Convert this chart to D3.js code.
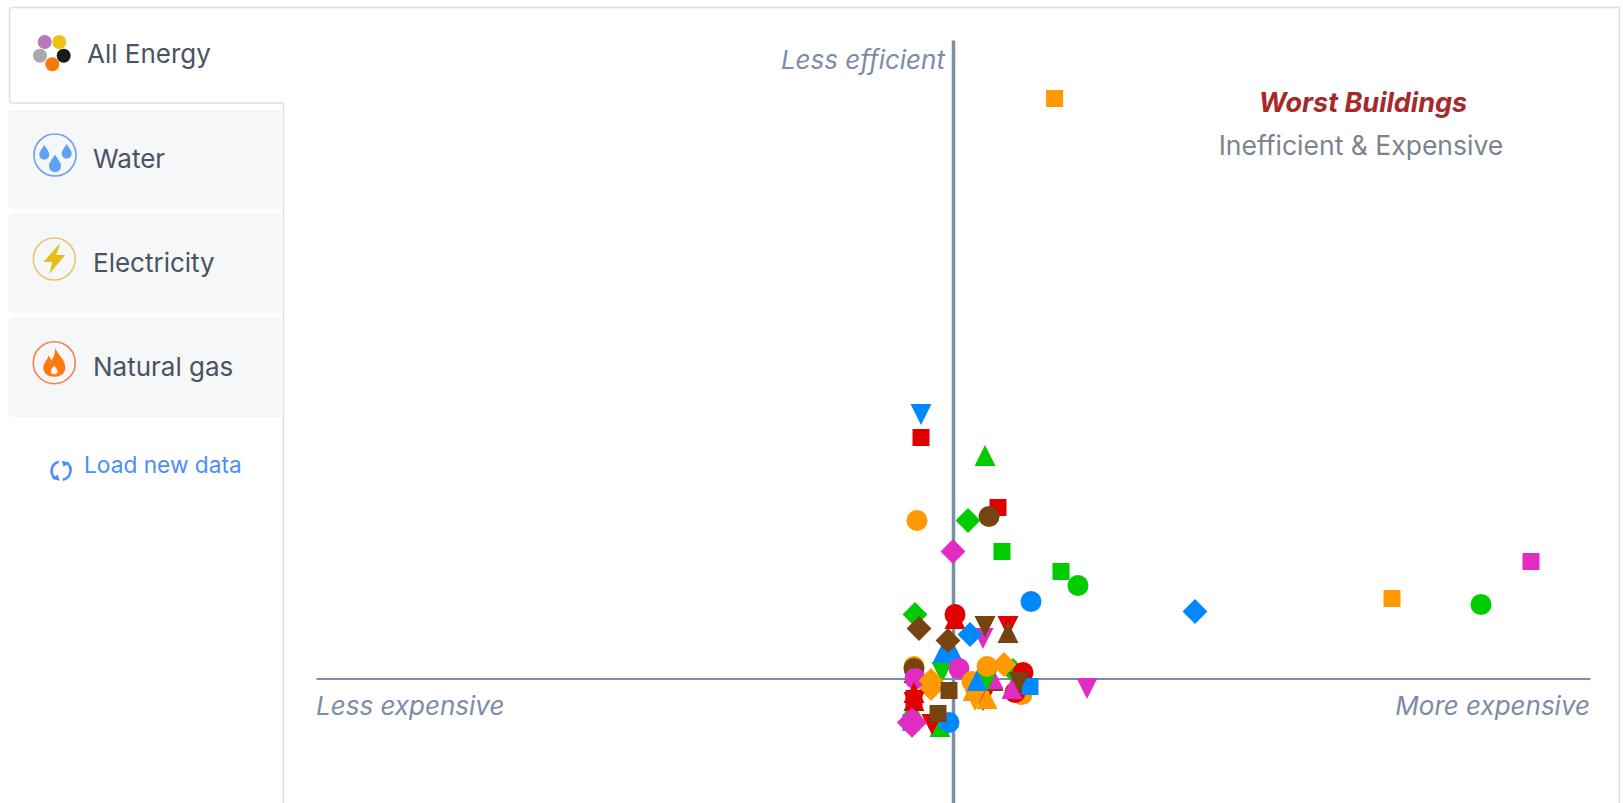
<!DOCTYPE html>
<html lang="en">
<head>
<meta charset="utf-8">
<title>Worst Buildings: energy use against cost</title>
<script src="https://cdn.jsdelivr.net/npm/d3@7/dist/d3.min.js"></script>
<style>
  html, body { margin: 0; padding: 0; background: #fff; overflow: hidden; }
  svg { display: block; font-family: Inter, Roboto, "Liberation Sans", sans-serif; }
  .tab-label { font-size: 26px; fill: #4a5361; }
  .corner { font-size: 26px; font-style: italic; fill: #7b8ca6; }
</style>
</head>
<body>
<svg id="chart" width="1623" height="803"></svg>
<script>
// Energy tabs down the left side
const tabNames = ["All Energy", "Water", "Electricity", "Natural gas"];

// One entry per building, drawn in this order so later ones sit on top
const costIndex = [
  50.8, -16, -16, 16, 22.5, 18, 7.5, -18, 0, 24.5, 54, 62.5, 39, 121, 219.5, 264, 289, 67,
  -19, -17, 1, 1, 15, 16, 27.5, 27.5, -1, 8.5, -5.5, -5, -2.5, -19.5, -19.5, -19.5, -19, -11, -11, 3, -2,
  9.5, 10, 15, 11, 17, 20, 20, 17, 12, 17, 30, 35, 25.5, 34.5, 31, 29.5, 38.5, 33,
  -20.5, -19.5, -19.5, -19.5, -19.5, -21, -6.5, -10.5, -2, -7.5, -20.5
];
const energyIndex = [
  290, 132, 120.5, 111.5, 85.5, 81, 79, 79, 63.5, 63.5, 53.5, 46.5, 38.5, 33.5, 40, 37, 58.5, -5,
  32, 25, 30, 32, 20, 26, 26, 23, 15, 22, 3, 13, 19, 6, 3, 5, 0, -1, -5, 5, -6,
  -1.5, -6, -11, -11, -10, -1, 0, -1, -1, 6, 4, 3, 7, -8, -7, -5, -4, -2,
  -15, -10, -7, -12, -11, -22, -24, -23, -22, -17.5, -22
];
const hue = [
  "orange", "blue", "red", "green", "red", "brown", "green", "orange", "magenta", "green", "green", "green", "blue", "blue", "orange", "green", "magenta", "magenta",
  "green", "brown", "red", "red", "magenta", "brown", "red", "brown", "blue", "blue", "green", "blue", "brown", "orange", "red", "brown", "magenta", "orange", "orange", "magenta", "brown",
  "orange", "orange", "red", "orange", "orange", "brown", "magenta", "green", "blue", "orange", "green", "red", "orange", "orange", "red", "magenta", "blue", "brown",
  "green", "red", "red", "red", "red", "blue", "green", "red", "blue", "brown", "magenta"
];
const shape = [
  "square", "down", "square", "up", "square", "circle", "diamond", "circle", "diamond", "square", "square", "circle", "circle", "diamond", "square", "circle", "square", "down",
  "diamond", "diamond", "up", "circle", "down", "down", "down", "up", "up", "diamond", "down", "up", "diamond", "circle", "up", "circle", "circle", "diamond", "diamond", "circle", "square",
  "circle", "up", "down", "down", "up", "up", "up", "down", "up", "circle", "diamond", "circle", "diamond", "circle", "circle", "up", "square", "down",
  "up", "square", "up", "down", "up", "square", "up", "down", "circle", "square", "largeDiamond"
];

const palette = {
  orange: "#ff9900", green: "#00cc00", red: "#e00000",
  blue: "#0088ff", magenta: "#e02cc0", brown: "#774411"
};

// Symbols are centred on their bounding box
const triangle = dir => ({
  draw(ctx, size) {
    const w = Math.sqrt(size) / 2;
    ctx.moveTo(-w, -dir * w);
    ctx.lineTo(w, -dir * w);
    ctx.lineTo(0, dir * w);
    ctx.closePath();
  }
});
const rhombus = {
  draw(ctx, size) {
    const r = Math.sqrt(size * 2) / 2;
    ctx.moveTo(0, -r);
    ctx.lineTo(r, 0);
    ctx.lineTo(0, r);
    ctx.lineTo(-r, 0);
    ctx.closePath();
  }
};
const symbols = {
  circle: d3.symbol(d3.symbolCircle, 346),
  square: d3.symbol(d3.symbolSquare, 289),
  diamond: d3.symbol(rhombus, 310),
  largeDiamond: d3.symbol(rhombus, 460),
  up: d3.symbol(triangle(-1), 440),
  down: d3.symbol(triangle(1), 440)
};

const svg = d3.select("#chart");

// Frame around the chart pane and the open tab
const frame = svg.append("g").attr("fill", "none").attr("stroke", "#dcdfe3").attr("stroke-width", 1.5);
frame.append("path").attr("d", "M9.5 100 V10.5 Q9.5 7.5 12.5 7.5 H1619.5 V803");
frame.append("path").attr("d", "M9.5 100 Q9.5 103 12.5 103 H283.5 V803");

// Closed tabs
const tabTops = [111, 215, 319];
svg.append("g").selectAll("rect").data(tabTops).join("rect")
  .attr("x", 9).attr("y", d => d)
  .attr("width", 274).attr("height", 97).attr("rx", 3)
  .attr("fill", "#f6f7f9").attr("stroke", "#eef0f3");

const labelX = [87, 93, 93, 93];
const labelY = [63, 168, 272, 376];
svg.append("g").selectAll("text").data(tabNames).join("text")
  .attr("class", "tab-label")
  .attr("x", (d, i) => labelX[i]).attr("y", (d, i) => labelY[i])
  .text(d => d);

// Icon of the open tab: five coloured dots
const dotColours = ["#bb77bb", "#eec211", "#aaaaaa", "#1a1a1a", "#f77a0a"];
const dotX = [44.7, 59.3, 40, 63.7, 52.3];
const dotY = [42, 42, 55.7, 55.7, 64.3];
svg.append("g").selectAll("circle").data(dotColours).join("circle")
  .attr("cx", (d, i) => dotX[i]).attr("cy", (d, i) => dotY[i]).attr("r", 7).attr("fill", d => d);

// Ringed icons of the closed tabs
const ring = (cx, cy, colour) => {
  const g = svg.append("g").attr("transform", `translate(${cx},${cy})`);
  g.append("circle").attr("r", 21).attr("fill", "none").attr("stroke", colour).attr("stroke-width", 1.6);
  return g;
};
const water = ring(55, 155, "#6f9cff");
const drop = "M0 -8 C2.5 -4 5 -1.5 5 1.8 A5 5 0 0 1 -5 1.8 C-5 -1.5 -2.5 -4 0 -8 Z";
[[-10.7, -2], [11.7, -3], [0, 9]].forEach(([x, y], i) => {
  water.append("path").attr("d", drop).attr("fill", "#5fa2f5")
    .attr("transform", `translate(${x},${y}) scale(${i === 2 ? 1.2 : 1})`);
});
ring(54.3, 259, "#e8c66c").append("path").attr("fill", "#e8bd1c")
  .attr("d", "M6 -16 L-11 3 L-2 3 L-5 15 L11 -4 L2 -4 Z");
ring(54.3, 362.7, "#fb7d4d").append("path").attr("fill", "#ff7a10")
  .attr("d", "M1 -15 C3 -8 11 -4 11 5 C11 11 6 14 0 14 C-6 14 -11 11 -11 5 C-11 0 -7 -2 -6 -7 C-4 -5 -3 -3 -3 -2 C-1 -5 1 -9 1 -15 Z M0 3 C-3 6 -4 8 -3 10 C-2 12 2 12 3 10 C4 8 2 5 0 3 Z")
  .attr("fill-rule", "evenodd");

// Reload link
const linkBlue = "#4c8efc";
const reload = svg.append("g").attr("transform", "translate(60.7,470.7)")
  .attr("fill", "none").attr("stroke", linkBlue).attr("stroke-width", 2.6);
reload.append("path").attr("d", "M-2 -9 A9.5 9.5 0 0 0 -5 8");
reload.append("path").attr("d", "M2 9 A9.5 9.5 0 0 0 6 -8");
reload.append("path").attr("d", "M-9 8 L-1 10 L-3 4 Z").attr("fill", linkBlue).attr("stroke", "none");
reload.append("path").attr("d", "M9 -8 L1 -10 L3 -4 Z").attr("fill", linkBlue).attr("stroke", "none");
svg.append("text").attr("x", 84).attr("y", 473)
  .attr("font-size", 22.7).attr("fill", linkBlue).text("Load new data");

// Scales: zero on each axis is the median building
const x = d3.scaleLinear().domain([-318.5, 318.5]).range([316, 1590]);
const y = d3.scaleLinear().domain([-62.25, 319.25]).range([803, 40]);

const axisColour = "#7a8fa9";
const xAxis = svg.append("g").attr("transform", `translate(0,${y(0)})`)
  .call(d3.axisBottom(x).tickValues([]).tickSizeOuter(0));
xAxis.select(".domain").attr("stroke", axisColour).attr("stroke-width", 2);
const yAxis = svg.append("g").attr("transform", `translate(${x(0)},0)`)
  .call(d3.axisLeft(y).tickValues([]).tickSizeOuter(0));
yAxis.select(".domain").attr("stroke", axisColour).attr("stroke-width", 3.5);

// Corner captions
svg.append("text").attr("class", "corner").attr("x", 945).attr("y", 69)
  .attr("text-anchor", "end").text("Less efficient");
svg.append("text").attr("class", "corner").attr("x", 316).attr("y", 715).text("Less expensive");
svg.append("text").attr("class", "corner").attr("x", 1590).attr("y", 715)
  .attr("text-anchor", "end").text("More expensive");
svg.append("text").attr("x", 1363).attr("y", 112).attr("text-anchor", "middle")
  .attr("font-size", 27).attr("font-style", "italic").attr("font-weight", 700)
  .attr("fill", "#a52a2a").text("Worst Buildings");
svg.append("text").attr("x", 1361).attr("y", 155).attr("text-anchor", "middle")
  .attr("font-size", 26.5).attr("fill", "#7a8490").text("Inefficient & Expensive");

// Buildings
svg.append("g").selectAll("path").data(costIndex).join("path")
  .attr("transform", (d, i) => `translate(${x(d)},${y(energyIndex[i])})`)
  .attr("d", (d, i) => symbols[shape[i]]())
  .attr("fill", (d, i) => palette[hue[i]]);
</script>
</body>
</html>
